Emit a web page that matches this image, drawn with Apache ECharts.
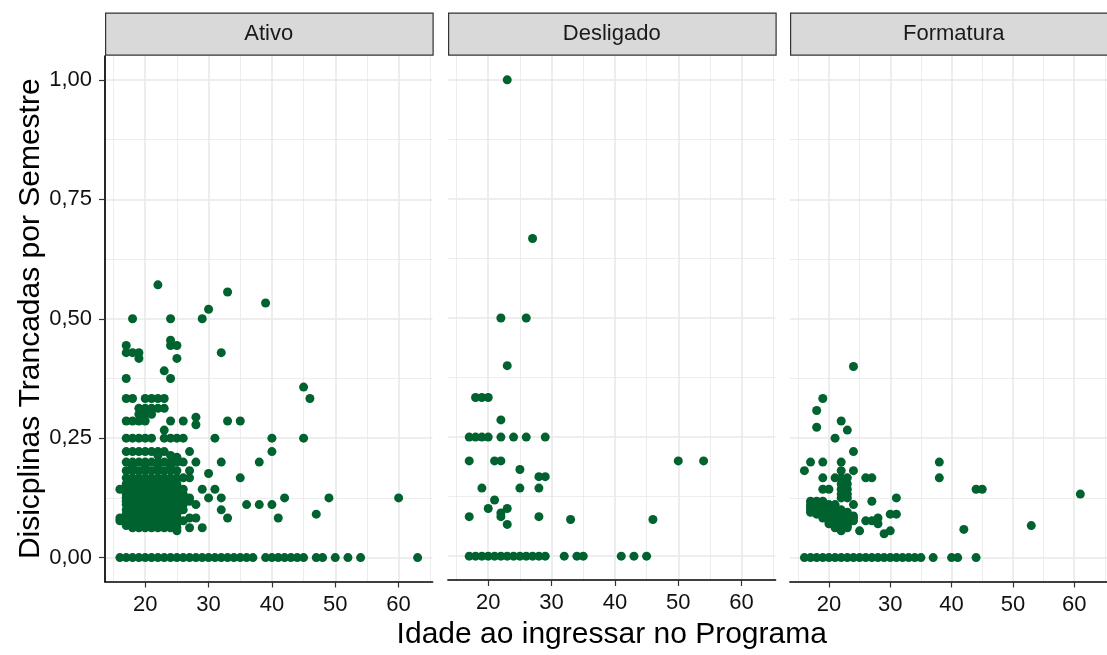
<!DOCTYPE html>
<html>
<head>
<meta charset="utf-8">
<script src="https://cdn.jsdelivr.net/npm/echarts@6/dist/echarts.min.js"></script>
<style>
html,body{margin:0;padding:0;background:#fff;}
#chart{width:1107px;height:655px;}
</style>
</head>
<body>
<div id="chart"></div>
<script>
// ---------- DATA ----------
const facets = ['Ativo', 'Desligado', 'Formatura'];
const xTicks = [20, 30, 40, 50, 60];
const xMinorTicks = [15, 25, 35, 45, 55, 65];
const yTicks = [0, 0.25, 0.5, 0.75, 1.0];
const yMinorTicks = [0.125, 0.375, 0.625, 0.875];
const xTitle = 'Idade ao ingressar no Programa';
const yTitle = 'Disicplinas Trancadas por Semestre';

const ativo = [
  // zero row
  [16,0],[17,0],[18,0],[19,0],[20,0],[21,0],[22,0],[23,0],[24,0],[25,0],[26,0],[27,0],[28,0],[29,0],[30,0],
  [31,0],[32,0],[33,0],[34,0],[35,0],[36,0],[37,0],[39,0],[40,0],[41,0],[42,0],[43,0],[44,0],[45,0],
  [47,0],[48,0],[50,0],[52,0],[54,0],[63,0],
  // upper points
  [22,0.571],[33,0.556],[39,0.533],[30,0.52],[29,0.5],[18,0.5],[24,0.5],
  [17,0.444],[17,0.429],[18,0.429],[19,0.429],[19,0.417],[24,0.455],[24,0.444],[25,0.444],[25,0.417],
  [32,0.429],[23,0.391],[24,0.375],[17,0.375],[45,0.357],[46,0.333],
  [17,0.333],[18,0.333],[20,0.333],[21,0.333],[22,0.333],[23,0.333],
  [19,0.3125],[20,0.3125],[21,0.3125],[22,0.3125],[23,0.3125],
  [19,0.3],[20,0.3],[21,0.3],
  [17,0.286],[18,0.286],[19,0.286],[20,0.286],[24,0.286],[26,0.286],[33,0.286],[35,0.286],
  [28,0.294],[28,0.278],[23,0.267],
  [17,0.25],[18,0.25],[19,0.25],[20,0.25],[21,0.25],[23,0.25],[24,0.25],[25,0.25],[26,0.25],[31,0.25],[40,0.25],[45,0.25],
  [17,0.222],[18,0.222],[19,0.222],[20,0.222],[21,0.222],[22,0.222],[23,0.222],[27,0.222],[40,0.222],
  [22,0.214],[24,0.214],[25,0.21],
  [17,0.2],[18,0.2],[19,0.2],[20,0.2],[21,0.2],[22,0.2],[23,0.2],[24,0.2],[25,0.2],[26,0.2],[28,0.2],[32,0.2],[38,0.2],
  [18,0.19],[20,0.19],[22,0.19],[24,0.19],
  [17,0.182],[18,0.182],[19,0.182],[20,0.182],[21,0.182],[22,0.182],[23,0.182],[24,0.182],[25,0.182],[27,0.182],
  [30,0.176],
  [17,0.167],[18,0.167],[19,0.167],[20,0.167],[21,0.167],[22,0.167],[23,0.167],[24,0.167],[25,0.167],[26,0.167],[27,0.167],[35,0.167],
  [17,0.154],[18,0.154],[19,0.154],[20,0.154],[21,0.154],[22,0.154],[23,0.154],[24,0.154],[25,0.154],
  [16,0.143],[17,0.143],[18,0.143],[19,0.143],[20,0.143],[21,0.143],[22,0.143],[23,0.143],[24,0.143],[25,0.143],[26,0.143],[29,0.143],[31,0.143],
  [17,0.133],[18,0.133],[19,0.133],[20,0.133],[21,0.133],[22,0.133],[23,0.133],[24,0.133],[25,0.133],[26,0.133],
  [17,0.125],[18,0.125],[19,0.125],[20,0.125],[21,0.125],[22,0.125],[23,0.125],[24,0.125],[25,0.125],[26,0.125],[27,0.125],
  [30,0.125],[32,0.125],[42,0.125],[49,0.125],[60,0.125],
  [17,0.118],[18,0.118],[19,0.118],[20,0.118],[21,0.118],[22,0.118],[23,0.118],[24,0.118],[25,0.118],[27,0.118],
  [17,0.111],[18,0.111],[19,0.111],[20,0.111],[21,0.111],[22,0.111],[23,0.111],[24,0.111],[25,0.111],[26,0.111],[28,0.111],
  [36,0.111],[38,0.111],[40,0.111],
  [17,0.1],[18,0.1],[19,0.1],[20,0.1],[21,0.1],[22,0.1],[23,0.1],[24,0.1],[25,0.1],[26,0.1],[32,0.1],
  [17,0.091],[18,0.091],[19,0.091],[20,0.091],[21,0.091],[22,0.091],[23,0.091],[24,0.091],[25,0.091],[47,0.091],
  [16,0.083],[17,0.083],[18,0.083],[19,0.083],[20,0.083],[21,0.083],[22,0.083],[23,0.083],[24,0.083],[25,0.083],[27,0.083],[28,0.083],[33,0.083],[41,0.083],
  [16,0.077],[17,0.077],[18,0.077],[19,0.077],[20,0.077],[21,0.077],[22,0.077],[23,0.077],[24,0.077],[25,0.077],[26,0.077],
  [17,0.071],[18,0.071],[19,0.071],[20,0.071],[21,0.071],[22,0.071],[23,0.071],[24,0.071],[25,0.071],
  [17,0.067],[18,0.067],[19,0.067],[20,0.067],[21,0.067],[22,0.067],[23,0.067],[24,0.067],
  [18,0.0625],[19,0.0625],[20,0.0625],[21,0.0625],[22,0.0625],[23,0.0625],[24,0.0625],[25,0.0625],[27,0.0625],[29,0.0625],
  [25,0.056]
];

const desligado = [
  [17,0],[18,0],[19,0],[20,0],[21,0],[22,0],[23,0],[24,0],[25,0],[26,0],[27,0],[28,0],[29,0],
  [32,0],[34,0],[35,0],[41,0],[43,0],[45,0],
  [23,1.0],[27,0.667],[22,0.5],[26,0.5],[23,0.4],
  [18,0.333],[19,0.333],[20,0.333],[22,0.286],
  [17,0.25],[18,0.25],[19,0.25],[20,0.25],[22,0.25],[24,0.25],[26,0.25],[29,0.25],
  [17,0.2],[21,0.2],[22,0.2],[50,0.2],[54,0.2],
  [25,0.182],[28,0.167],[29,0.167],[19,0.143],[25,0.143],[28,0.143],
  [21,0.118],[20,0.1],[23,0.1],[22,0.0909],[17,0.083],[22,0.083],[28,0.083],
  [33,0.077],[46,0.077],[23,0.0667]
];

const formatura = [
  [16,0],[17,0],[18,0],[19,0],[20,0],[21,0],[22,0],[23,0],[24,0],[25,0],[26,0],[27,0],[28,0],[29,0],[30,0],
  [31,0],[32,0],[33,0],[34,0],[35,0],[37,0],[40,0],[41,0],[44,0],
  [24,0.4],[19,0.333],[18,0.308],[18,0.273],[22,0.286],[23,0.267],[21,0.25],[24,0.222],
  [17,0.2],[19,0.2],[22,0.2],[16,0.182],[24,0.182],[22,0.182],
  [19,0.167],[21,0.167],[22,0.167],[23,0.167],[26,0.167],[27,0.167],[38,0.2],[38,0.167],
  [19,0.143],[20,0.143],[22,0.143],[23,0.143],[44,0.143],[45,0.143],[61,0.133],
  [22,0.154],[23,0.154],[22,0.133],[23,0.133],[22,0.125],[23,0.125],
  [31,0.125],[27,0.118],[24,0.111],[30,0.091],[31,0.091],[26,0.077],[27,0.077],[28,0.083],[28,0.071],
  [25,0.056],[29,0.05],[30,0.056],[42,0.059],[53,0.067],
  [17,0.118],[18,0.118],[19,0.118],
  [17,0.111],[18,0.111],[19,0.111],[20,0.111],[21,0.111],
  [17,0.105],[18,0.105],[19,0.105],[20,0.105],[21,0.105],
  [17,0.1],[18,0.1],[19,0.1],[20,0.1],[21,0.1],[22,0.1],
  [17,0.095],[18,0.095],[19,0.095],[20,0.095],[21,0.095],[22,0.095],[23,0.095],
  [18,0.091],[19,0.091],[20,0.091],[21,0.091],[22,0.091],[23,0.091],
  [19,0.087],[20,0.087],[21,0.087],[22,0.087],[23,0.087],[24,0.087],
  [19,0.083],[20,0.083],[21,0.083],[22,0.083],[23,0.083],[24,0.083],
  [20,0.077],[21,0.077],[22,0.077],[23,0.077],[24,0.077],
  [20,0.071],[21,0.071],[22,0.071],[23,0.071],
  [21,0.067],[22,0.067],[23,0.067],
  [21,0.0625],[22,0.0625],[23,0.0625],[22,0.056]
];
const facetData = [ativo, desligado, formatura];

// ---------- LAYOUT / STYLE ----------
const FONT = "'Liberation Sans', Arial, sans-serif";
const PANEL_LEFTS = [105, 448, 790];
const PANEL_W = 327.5;
const PANEL_TOP = 56;
const PANEL_H = 525.5;
const STRIP_TOP = 12.5;
const STRIP_H = 42;
const X_MIN = 13.65, X_MAX = 65.35;
const Y_MIN = -0.05, Y_MAX = 1.05;
const POINT_COLOR = '#00622f';
const GRID_COLOR = '#e9e9e9';

const grids = [], xAxes = [], yAxes = [], series = [], graphics = [];
const fmtY = v => v.toFixed(2).replace('.', ',');

facets.forEach((name, i) => {
  grids.push({left: PANEL_LEFTS[i], top: PANEL_TOP, width: PANEL_W, height: PANEL_H, containLabel: false});
  // major x axis
  xAxes.push({
    type: 'value', gridIndex: i, min: X_MIN, max: X_MAX,
    axisLine: {show: true, onZero: false, lineStyle: {color: '#000', width: 1.7}},
    axisTick: {show: true, length: 6, customValues: xTicks, lineStyle: {color: '#333', width: 1.2}},
    axisLabel: {show: true, customValues: xTicks, margin: 12, color: '#111', fontSize: 22, fontFamily: FONT},
    splitLine: {show: true, lineStyle: {color: GRID_COLOR, width: 1.6}},
    name: i === 1 ? xTitle : '', nameLocation: 'middle', nameGap: 40,
    nameTextStyle: {fontSize: 30, fontFamily: FONT, color: '#000'}
  });
  // minor x grid
  xAxes.push({
    type: 'value', gridIndex: i, min: X_MIN, max: X_MAX,
    axisLine: {show: false}, axisTick: {show: false, customValues: xMinorTicks},
    axisLabel: {show: false, customValues: xMinorTicks},
    splitLine: {show: true, lineStyle: {color: GRID_COLOR, width: 0.8}}
  });
  // major y axis
  yAxes.push({
    type: 'value', gridIndex: i, min: Y_MIN, max: Y_MAX,
    axisLine: {show: i === 0, onZero: false, lineStyle: {color: '#000', width: 1.7}},
    axisTick: {show: i === 0, length: 6, customValues: yTicks, lineStyle: {color: '#333', width: 1.2}},
    axisLabel: {show: i === 0, customValues: yTicks, margin: 13, color: '#111', fontSize: 22, fontFamily: FONT, formatter: fmtY},
    splitLine: {show: true, lineStyle: {color: GRID_COLOR, width: 1.6}},
    name: i === 0 ? yTitle : '', nameLocation: 'middle', nameGap: 58, nameRotate: 90,
    nameTextStyle: {fontSize: 30, fontFamily: FONT, color: '#000'}
  });
  // minor y grid
  yAxes.push({
    type: 'value', gridIndex: i, min: Y_MIN, max: Y_MAX,
    axisLine: {show: false}, axisTick: {show: false, customValues: yMinorTicks},
    axisLabel: {show: false, customValues: yMinorTicks},
    splitLine: {show: true, lineStyle: {color: GRID_COLOR, width: 0.8}}
  });
  series.push({
    type: 'scatter', xAxisIndex: 2 * i, yAxisIndex: 2 * i,
    data: facetData[i], symbolSize: 9,
    itemStyle: {color: POINT_COLOR, opacity: 1},
    emphasis: {disabled: true}, silent: true, animation: false
  });
  // facet strip
  graphics.push({
    type: 'rect', left: PANEL_LEFTS[i], top: STRIP_TOP,
    shape: {x: 0, y: 0, width: PANEL_W, height: STRIP_H},
    style: {fill: '#d9d9d9', stroke: '#333', lineWidth: 1.2}
  });
  graphics.push({
    type: 'text', x: PANEL_LEFTS[i] + PANEL_W / 2, y: STRIP_TOP + STRIP_H / 2,
    style: {text: name, fill: '#1a1a1a', font: "22px 'Liberation Sans', Arial, sans-serif", textAlign: 'center', textVerticalAlign: 'middle'}
  });
});

const chart = echarts.init(document.getElementById('chart'), null, {renderer: 'canvas'});
chart.setOption({
  animation: false,
  backgroundColor: '#fff',
  grid: grids, xAxis: xAxes, yAxis: yAxes, series: series,
  graphic: graphics
});
</script>
</body>
</html>
